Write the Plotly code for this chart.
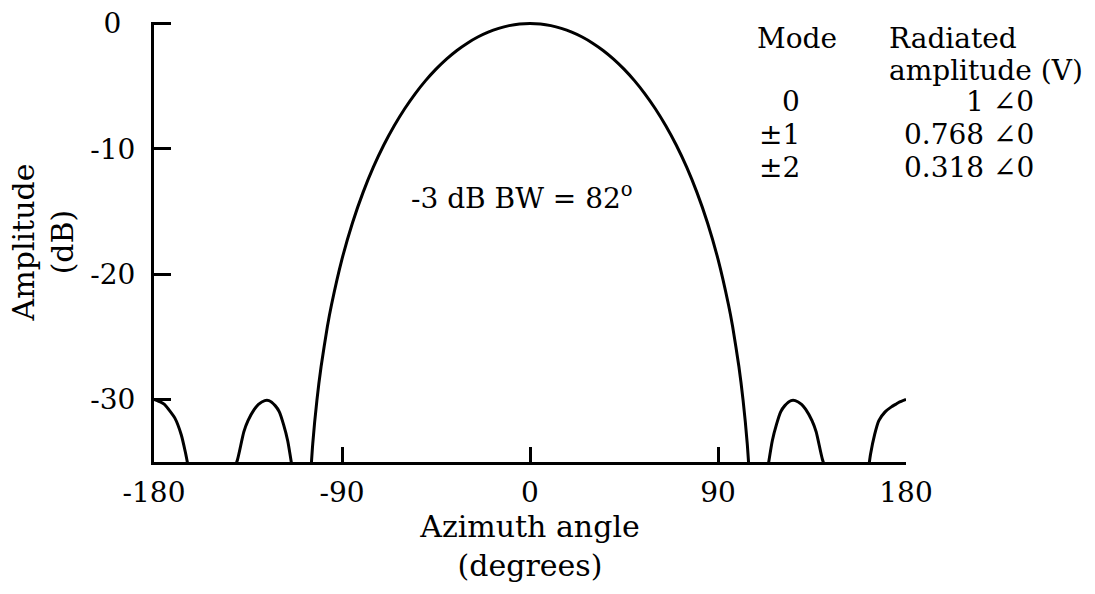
import plotly.graph_objects as go

# Azimuth pattern of a three-mode (0, ±1, ±2) phase-mode array, in dB.
# Each lobe is kept as its own run of (angle, level) samples.
back_lobe_left_deg = [-180, -177, -175, -173, -170, -167, -165, -163]
back_lobe_left_db = [-30.0, -30.2, -30.4, -30.8, -31.5, -32.8, -34.2, -35.9]

side_lobe_left_deg = [-143, -140, -137, -135, -132, -130, -127, -125, -122, -120, -118, -116, -114]
side_lobe_left_db = [-36.2, -34.8, -32.6, -31.7, -30.8, -30.4, -30.1, -30.1, -30.5, -31.0, -32.0, -33.3, -35.3]

main_lobe_deg = [-106, -104, -102, -100, -97, -95, -90, -85, -80, -75, -70, -65, -60, -55, -50,
                 -45, -40, -35, -30, -25, -20, -15, -10, -5, 0,
                 5, 10, 15, 20, 25, 30, 35, 40, 45, 50, 55, 60, 65, 70, 75, 80, 85, 90,
                 95, 97, 100, 102, 104, 106]
main_lobe_db = [-38.6, -33.53, -30.06, -27.38, -24.19, -22.43, -18.81, -15.92, -13.52, -11.47,
                -9.70, -8.16, -6.80, -5.61, -4.56, -3.64, -2.84, -2.15, -1.57, -1.08, -0.69,
                -0.39, -0.17, -0.04, 0.0,
                -0.04, -0.17, -0.39, -0.69, -1.08, -1.57, -2.15, -2.84, -3.64, -4.56, -5.61,
                -6.80, -8.16, -9.70, -11.47, -13.52, -15.92, -18.81, -22.43, -24.19, -27.38,
                -30.06, -33.53, -38.6]

side_lobe_right_deg = [114, 116, 118, 120, 122, 125, 127, 130, 132, 135, 137, 140, 143]
side_lobe_right_db = [-35.3, -33.3, -32.0, -31.0, -30.5, -30.1, -30.1, -30.4, -30.8, -31.7, -32.6, -34.8, -36.2]

back_lobe_right_deg = [162, 163, 165, 167, 170, 173, 175, 177, 180]
back_lobe_right_db = [-35.6, -34.4, -32.8, -31.7, -31.0, -30.6, -30.4, -30.2, -30.0]

# Mode excitation table
modes = ["0", "±1", "±2"]
mode_amplitudes = [1, 0.768, 0.318]
beamwidth_3db = 82

x_ticks = [-180, -90, 0, 90, 180]
x_tick_text = ["-180", "-90", "0", "90", "180"]
y_ticks = [0, -10, -20, -30]
y_tick_text = ["0\u2002", "-10", "-20", "-30"]

FONT = "DejaVu Serif"
FS = 28
FS_TITLE = 30

lobes = [
    (back_lobe_left_deg, back_lobe_left_db),
    (side_lobe_left_deg, side_lobe_left_db),
    (main_lobe_deg, main_lobe_db),
    (side_lobe_right_deg, side_lobe_right_db),
    (back_lobe_right_deg, back_lobe_right_db),
]
xs, ys = [], []
for deg, db in lobes:
    xs += list(deg) + [None]
    ys += list(db) + [None]

fig = go.Figure()
fig.add_trace(go.Scatter(
    x=xs, y=ys, mode="lines", connectgaps=False,
    line=dict(color="black", width=3, shape="spline", smoothing=0.6),
    hoverinfo="skip", showlegend=False,
))

axis_common = dict(
    showline=True, linecolor="black", linewidth=3,
    ticks="inside", tickcolor="black", tickwidth=3,
    showgrid=False, zeroline=False, mirror=False,
    tickfont=dict(family=FONT, size=FS, color="black"),
)

fig.update_layout(
    width=1095, height=594,
    margin=dict(l=154, r=189, t=22, b=132, autoexpand=False),
    paper_bgcolor="white", plot_bgcolor="white",
    font=dict(family=FONT, size=FS, color="black"),
    xaxis=dict(
        range=[-180, 180], tickvals=x_ticks, ticktext=x_tick_text,
        ticklen=15, ticklabelstandoff=3,
        title=dict(text="Azimuth angle<br>(degrees)", standoff=2,
                   font=dict(family=FONT, size=FS_TITLE, color="black")),
        **axis_common,
    ),
    yaxis=dict(
        range=[-35, 0.12], tickvals=y_ticks, ticktext=y_tick_text,
        ticklen=17, ticklabelstandoff=10,
        title=dict(text="Amplitude<br>(dB)", standoff=8,
                   font=dict(family=FONT, size=FS_TITLE, color="black")),
        **axis_common,
    ),
)

# Beamwidth label inside the main lobe
fig.add_annotation(
    x=-4, y=-13.8, xref="x", yref="y", showarrow=False,
    text=f"-3 dB BW = {beamwidth_3db}<sup>o</sup>",
    font=dict(family=FONT, size=FS, color="black"),
)

# Mode / amplitude table in the upper right (positions given in pixels)
W, H = 1095, 594
ml, mr, mt, mb = 154, 189, 22, 132
pw, ph = W - ml - mr, H - mt - mb


def px(x, y):
    return (x - ml) / pw, 1 - (y - mt) / ph


def table_text(x, y, text, anchor):
    xp, yp = px(x, y)
    fig.add_annotation(x=xp, y=yp, xref="paper", yref="paper", text=text,
                       showarrow=False, xanchor=anchor, yanchor="middle",
                       font=dict(family=FONT, size=FS, color="black"))


table_text(755, 39, "Mode", "left")
table_text(887, 39, "Radiated", "left")
table_text(887, 71, "amplitude (V)", "left")
row_y = [101, 134, 167]
for m, a, yy in zip(modes, mode_amplitudes, row_y):
    table_text(802, yy, m, "right")
    table_text(1036, yy, f"{a:g} ∠0", "right")

fig.write_html("out.html")
